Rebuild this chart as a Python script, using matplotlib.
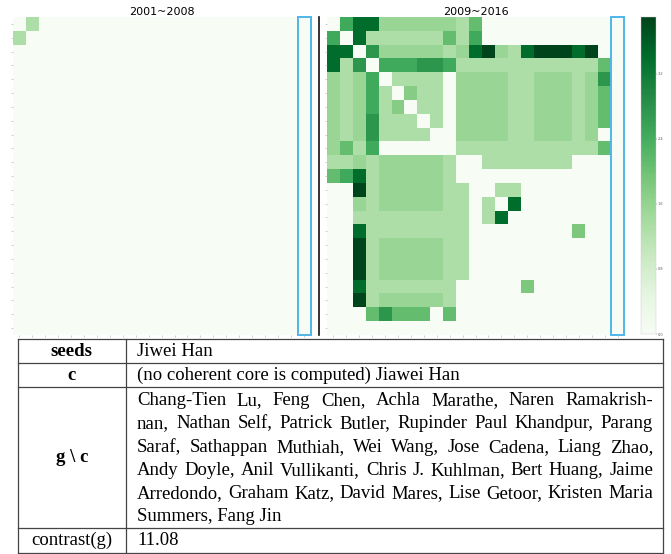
import numpy as np
import matplotlib.pyplot as plt
from matplotlib.patches import Rectangle
from matplotlib.lines import Line2D

# panel titles and colour scale
titles = ["2001~2008", "2009~2016"]
cbar_ticks = [0.0, 0.8, 1.6, 2.4, 3.2]
vmax = 3.9
seed_idx = 22          # column of the seed author (boxed in blue)
n_auth = 23

# 2001~2008: only one collaboration pair
early_links = [(0, 1, 1.3)]

# 2009~2016 collaboration strength matrix
late = [
    [0, 2.45, 3.4, 3.4, 1.55, 1.55, 1.55, 1.55, 1.55, 1.55, 1.3, 2.1, 0, 0, 0, 0, 0, 0, 0, 0, 0, 0, 0],
    [2.45, 0, 3.4, 1.3, 1.3, 1.3, 1.3, 1.3, 1.3, 2.1, 1.3, 2.45, 0, 0, 0, 0, 0, 0, 0, 0, 0, 0, 0],
    [3.4, 3.4, 0, 2.75, 1.55, 1.55, 1.55, 1.55, 1.55, 1.3, 1.55, 3.4, 3.9, 1.55, 1.3, 3.4, 3.9, 3.9, 3.9, 3.4, 3.9, 0, 0],
    [3.4, 1.3, 2.75, 0, 2.45, 2.45, 2.45, 2.75, 2.75, 2.45, 1.3, 1.3, 1.3, 1.3, 1.3, 1.3, 1.3, 1.3, 1.3, 1.3, 1.3, 2.1, 0],
    [1.55, 1.3, 1.55, 2.45, 0, 1.3, 1.3, 1.3, 1.3, 0, 1.55, 1.55, 1.55, 1.55, 1.3, 1.3, 1.55, 1.55, 1.55, 1.3, 1.55, 2.75, 0],
    [1.55, 1.3, 1.55, 2.45, 1.3, 0, 1.75, 1.3, 1.3, 0, 1.55, 1.55, 1.55, 1.55, 1.3, 1.3, 1.55, 1.55, 1.55, 1.3, 1.55, 2.1, 0],
    [1.55, 1.3, 1.55, 2.45, 1.3, 1.75, 0, 1.3, 1.3, 0, 1.55, 1.55, 1.55, 1.55, 1.3, 1.3, 1.55, 1.55, 1.55, 1.3, 1.55, 2.1, 0],
    [1.55, 1.3, 1.55, 2.75, 1.3, 1.3, 1.3, 0, 1.3, 0, 1.55, 1.55, 1.55, 1.55, 1.3, 1.3, 1.55, 1.55, 1.55, 1.3, 1.55, 2.1, 0],
    [1.55, 1.3, 1.55, 2.75, 1.3, 1.3, 1.3, 1.3, 0, 0, 1.55, 1.55, 1.55, 1.55, 1.3, 1.3, 1.55, 1.55, 1.55, 1.3, 1.55, 0, 0],
    [1.55, 2.1, 1.3, 2.45, 0, 0, 0, 0, 0, 0, 1.3, 1.3, 1.3, 1.3, 1.3, 1.3, 1.3, 1.3, 1.3, 1.3, 1.3, 2.1, 0],
    [1.3, 1.3, 1.55, 1.3, 1.55, 1.55, 1.55, 1.55, 1.55, 1.3, 0, 0, 1.3, 1.3, 1.3, 1.3, 1.3, 1.3, 1.3, 0, 0, 0, 0],
    [2.1, 2.45, 3.4, 1.3, 1.55, 1.55, 1.55, 1.55, 1.55, 1.3, 0, 0, 0, 0, 0, 0, 0, 0, 0, 0, 0, 0, 0],
    [0, 0, 3.9, 1.3, 1.55, 1.55, 1.55, 1.55, 1.55, 1.3, 1.3, 0, 0, 1.3, 1.3, 0, 0, 0, 0, 0, 0, 0, 0],
    [0, 0, 1.55, 1.3, 1.55, 1.55, 1.55, 1.55, 1.55, 1.3, 1.3, 0, 1.3, 0, 3.4, 0, 0, 0, 0, 0, 0, 0, 0],
    [0, 0, 1.3, 1.3, 1.3, 1.3, 1.3, 1.3, 1.3, 1.3, 1.3, 0, 1.3, 3.4, 0, 0, 0, 0, 0, 0, 0, 0, 0],
    [0, 0, 3.4, 1.3, 1.3, 1.3, 1.3, 1.3, 1.3, 1.3, 1.3, 0, 0, 0, 0, 0, 0, 0, 0, 1.85, 0, 0, 0],
    [0, 0, 3.9, 1.3, 1.55, 1.55, 1.55, 1.55, 1.55, 1.3, 1.3, 0, 0, 0, 0, 0, 0, 0, 0, 0, 0, 0, 0],
    [0, 0, 3.9, 1.3, 1.55, 1.55, 1.55, 1.55, 1.55, 1.3, 1.3, 0, 0, 0, 0, 0, 0, 0, 0, 0, 0, 0, 0],
    [0, 0, 3.9, 1.3, 1.55, 1.55, 1.55, 1.55, 1.55, 1.3, 1.3, 0, 0, 0, 0, 0, 0, 0, 0, 0, 0, 0, 0],
    [0, 0, 3.4, 1.3, 1.3, 1.3, 1.3, 1.3, 1.3, 1.3, 0, 0, 0, 0, 0, 1.85, 0, 0, 0, 0, 0, 0, 0],
    [0, 0, 3.9, 1.3, 1.55, 1.55, 1.55, 1.55, 1.55, 1.3, 0, 0, 0, 0, 0, 0, 0, 0, 0, 0, 0, 0, 0],
    [0, 0, 0, 2.1, 2.75, 2.1, 2.1, 2.1, 0, 2.1, 0, 0, 0, 0, 0, 0, 0, 0, 0, 0, 0, 0, 0],
    [0, 0, 0, 0, 0, 0, 0, 0, 0, 0, 0, 0, 0, 0, 0, 0, 0, 0, 0, 0, 0, 0, 0],
]

# table below the heatmaps
row_keys = ["seeds", "c", "g \\ c", "contrast(g)"]
seeds_text = "Jiwei Han"
core_text = "(no coherent core is computed) Jiawei Han"
rest_lines = [
    "Chang-Tien Lu, Feng Chen, Achla Marathe, Naren Ramakrish-",
    "nan, Nathan Self, Patrick Butler, Rupinder Paul Khandpur, Parang",
    "Saraf, Sathappan Muthiah, Wei Wang, Jose Cadena, Liang Zhao,",
    "Andy Doyle, Anil Vullikanti, Chris J. Kuhlman, Bert Huang, Jaime",
    "Arredondo, Graham Katz, David Mares, Lise Getoor, Kristen Maria",
    "Summers, Fang Jin",
]
contrast_text = "11.08"

early = np.zeros((n_auth, n_auth))
for i, j, w in early_links:
    early[i, j] = w
    early[j, i] = w
late = np.array(late)

W, H = 671, 554
fig = plt.figure(figsize=(W / 100, H / 100), dpi=100)


def px_axes(x0, y0, x1, y1):
    return fig.add_axes([x0 / W, 1 - y1 / H, (x1 - x0) / W, (y1 - y0) / H])


# overlay in pixel units for the table and the divider line
tab = px_axes(0, 0, W, H)
tab.set_xlim(0, W)
tab.set_ylim(H, 0)
tab.axis('off')
tab.set_zorder(-1)

panels = [(12.7, 310.5), (327, 624)]
for (x0, x1), mat, title in zip(panels, [early, late], titles):
    ax = px_axes(x0, 17, x1, 335)
    im = ax.imshow(mat, cmap='Greens', vmin=0, vmax=vmax, aspect='auto',
                   interpolation='nearest')
    ax.set_xticks(range(n_auth))
    ax.set_yticks(range(n_auth))
    ax.set_xticklabels([])
    ax.set_yticklabels([])
    ax.tick_params(length=1.2, width=0.4, color='#aaaaaa')
    for s in ax.spines.values():
        s.set_visible(False)
    ax.set_title(title, fontsize=8, pad=1.5)
    ax.add_patch(Rectangle((seed_idx - 0.5, -0.5), 1, n_auth, fill=False,
                           edgecolor='#4fb6ea', lw=1.4, clip_on=False))

cax = px_axes(641, 17, 656, 334)
cb = fig.colorbar(im, cax=cax, ticks=cbar_ticks)
cb.ax.tick_params(labelsize=2.5, length=1, width=0.3, pad=0.5, colors='#555555')
cb.outline.set_linewidth(0.3)
cb.outline.set_edgecolor('#cccccc')

tab.add_line(Line2D([318.5, 318.5], [17, 335], color='#111111', lw=1.2))

# table grid
tx0, tdiv, tx1 = 17.5, 126, 662.7
hlines = [339, 363.3, 387.3, 528.3, 552.7]
for y in hlines:
    tab.add_line(Line2D([tx0, tx1], [y, y], color='#444444', lw=0.9))
for x in [tx0, tdiv, tx1]:
    tab.add_line(Line2D([x, x], [hlines[0], hlines[-1]], color='#444444', lw=0.9))

serif = ['Liberation Serif', 'DejaVu Serif']
fs = 13.5
kx = (tx0 + tdiv) / 2
key_y = [356, 380, 462, 545]
for key, y in zip(row_keys, key_y):
    tab.text(kx, y, key, ha='center', va='baseline', family=serif, fontsize=fs,
             fontweight='normal' if key.startswith('contrast') else 'bold')

vx0, vx1 = 137, 653
tab.text(vx0, 356, seeds_text, va='baseline', family=serif, fontsize=fs)
tab.text(vx0, 380, core_text, va='baseline', family=serif, fontsize=fs)
tab.text(vx0, 545, contrast_text, va='baseline', family=serif, fontsize=fs)

fig.canvas.draw()
r = fig.canvas.get_renderer()
line_y = [405, 428.5, 452, 475, 498, 521]
for k, (line, y) in enumerate(zip(rest_lines, line_y)):
    if k == len(rest_lines) - 1:
        tab.text(vx0, y, line, va='baseline', family=serif, fontsize=fs)
        continue
    words = line.split()
    txts = [tab.text(0, y, w, va='baseline', family=serif, fontsize=fs) for w in words]
    widths = [t.get_window_extent(r).width for t in txts]
    gap = (vx1 - vx0 - sum(widths)) / (len(words) - 1)
    x = vx0
    for t, w in zip(txts, widths):
        t.set_x(x)
        x += w + gap

fig.savefig('out.png', dpi=100)
